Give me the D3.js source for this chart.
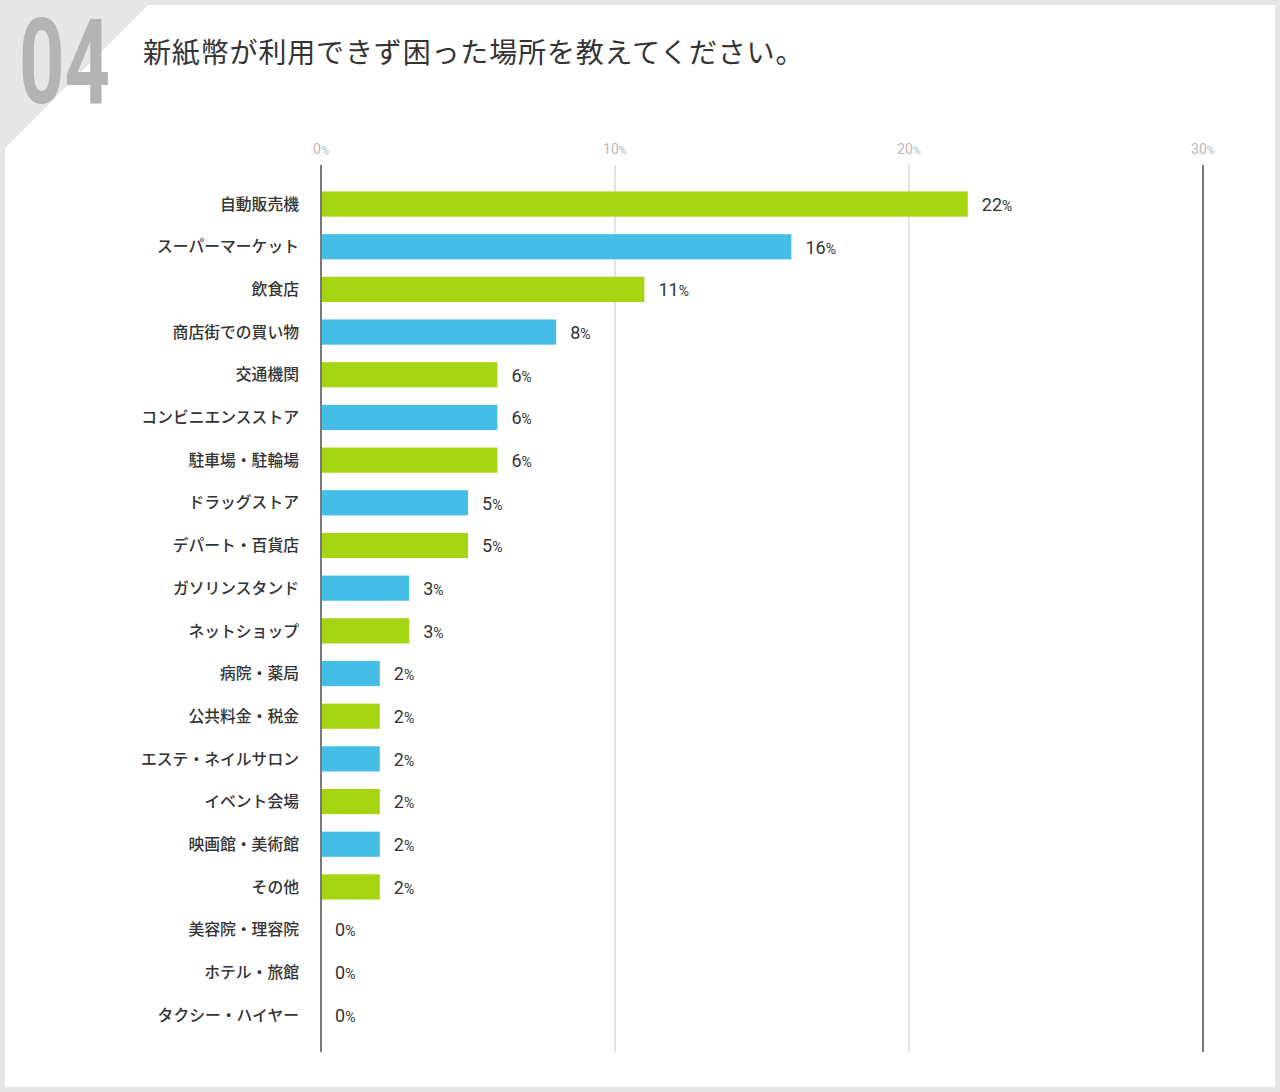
<!DOCTYPE html>
<html><head><meta charset="utf-8">
<script src="https://cdn.jsdelivr.net/npm/d3@7"></script>
<style>
html,body{margin:0;padding:0;background:#e6e6e6;}
svg{display:block;}
</style></head>
<body>
<svg id="chart" width="1280" height="1092"></svg>
<script>
const categories = ["自動販売機","スーパーマーケット","飲食店","商店街での買い物","交通機関","コンビニエンスストア","駐車場・駐輪場","ドラッグストア","デパート・百貨店","ガソリンスタンド","ネットショップ","病院・薬局","公共料金・税金","エステ・ネイルサロン","イベント会場","映画館・美術館","その他","美容院・理容院","ホテル・旅館","タクシー・ハイヤー"];
const values = [22,16,11,8,6,6,6,5,5,3,3,2,2,2,2,2,2,0,0,0];
const tickValues = [0,10,20,30];
const title = "新紙幣が利用できず困った場所を教えてください。";
const number = "04";
const colors = ["#a5d411","#45bde6"];

const svg = d3.select("#chart");
const jp = "'Noto Sans CJK JP','Noto Sans',sans-serif";
const num = "Roboto,'DejaVu Sans',sans-serif";

// panel with cut corner
svg.append("rect").attr("width",1280).attr("height",1092).attr("fill","#e6e6e6");
svg.append("path").attr("d","M148,5 L1275,5 L1275,1087 L5,1087 L5,148 Z").attr("fill","#ffffff");

// big number
svg.append("text").text(number)
  .attr("x",19).attr("y",103)
  .attr("textLength",91).attr("lengthAdjust","spacingAndGlyphs")
  .attr("font-family",num).attr("font-weight",700).attr("font-size",118)
  .attr("fill","#b3b3b3");

svg.append("text").text(title)
  .attr("x",143).attr("y",63)
  .attr("font-family",jp).attr("font-size",28).attr("letter-spacing",0.85).attr("fill","#333");

const x = d3.scaleLinear().domain([0,30]).range([321,1203]);
const y = d3.scaleBand().domain(categories).range([182.7,1036.3]).paddingInner(0.41).paddingOuter(0.205);

// grid
svg.append("g").selectAll("line").data(tickValues).join("line")
  .attr("x1",d=>x(d)).attr("x2",d=>x(d)).attr("y1",165).attr("y2",1052)
  .attr("stroke",d=>(d===0||d===30)?"#7a7a7a":"#c8c8c8")
  .attr("stroke-width",d=>(d===0||d===30)?2:1);

// tick labels
const tl = svg.append("g").selectAll("text").data(tickValues).join("text")
  .attr("x",d=>x(d)).attr("y",154).attr("text-anchor","middle")
  .attr("font-family",num).attr("font-size",14).attr("fill","#b8b8b8");
tl.append("tspan").text(d=>d);
tl.append("tspan").attr("font-size",11).text("%");

// bars
svg.append("g").selectAll("rect").data(values).join("rect")
  .attr("x",x(0)+1).attr("y",(d,i)=>y(categories[i]))
  .attr("width",d=>Math.max(0,x(d)-x(0)-1)).attr("height",y.bandwidth())
  .attr("fill",(d,i)=>colors[i%2]);

// category labels
svg.append("g").selectAll("text").data(categories).join("text")
  .attr("x",299).attr("y",d=>y(d)+y.bandwidth()/2).attr("dy","0.36em")
  .attr("text-anchor","end").attr("font-family",jp).attr("font-weight",500)
  .attr("font-size",15.8)
  .attr("fill","#333").text(d=>d);

// value labels
const vl = svg.append("g").selectAll("text").data(values).join("text")
  .attr("x",d=>x(d)+14).attr("y",(d,i)=>y(categories[i])+y.bandwidth()/2).attr("dy","0.38em")
  .attr("font-family",num).attr("font-size",18).attr("fill","#333");
vl.append("tspan").text(d=>d);
vl.append("tspan").attr("font-size",14).text("%");
</script>
</body></html>
